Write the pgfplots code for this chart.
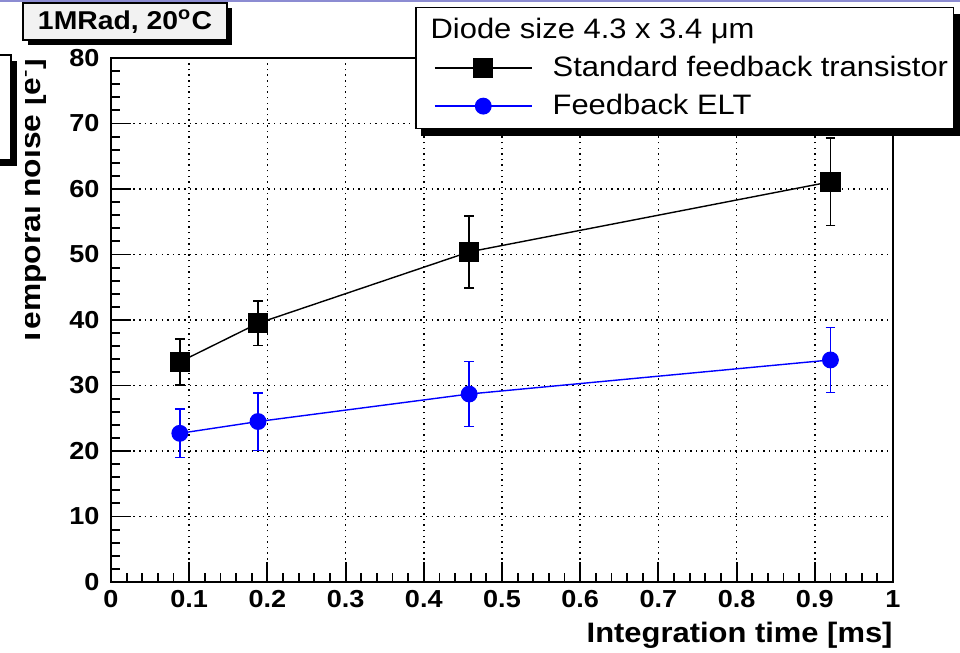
\documentclass[border=0pt]{standalone}
\usepackage{pgfplots}
\pgfplotsset{compat=1.18}
\usepackage{fontspec}
\setmainfont{Liberation Sans}[FakeStretch=1.1]
\definecolor{rootblue}{RGB}{0,0,255}
\definecolor{topline}{RGB}{140,140,210}
\definecolor{paveback}{RGB}{242,242,242}
\pgfdeclarelayer{shadowlayer}
\pgfsetlayers{shadowlayer,main}
\begin{document}
\begin{tikzpicture}
\useasboundingbox (-1.665,-1.05) rectangle (12.735,8.73);
\begin{axis}[
    at={(0,0)}, anchor=south west,
    scale only axis,
    width=11.73cm, height=7.86cm,
    xmin=0, xmax=1, ymin=0, ymax=80,
    xtick={0,0.1,0.2,0.3,0.4,0.5,0.6,0.7,0.8,0.9,1},
    ytick={0,10,20,30,40,50,60,70,80},
    minor x tick num=4, minor y tick num=4,
    tick align=inside,
    xtick pos=left, ytick pos=left,
    major tick length=0.3cm, minor tick length=0.14cm,
    tick style={black, line width=0.8pt},
    axis line style={line width=0.9pt},
    grid=major,
    major grid style={black, line width=0.6pt, dash pattern=on 0.6pt off 1.8pt},
    /pgf/number format/assume math mode=true,
    ticklabel style={font=\bfseries\fontsize{10.5}{12}\selectfont},
    yticklabel style={xshift=-0.05cm},
    xlabel={Integration time [ms]},
    xlabel style={at={(axis description cs:1,-0.1145)}, anchor=base east,
        font=\bfseries\fontsize{12}{14}\selectfont, inner sep=0pt},
    legend style={name=legbox, at={(0.389,1.0973)}, anchor=north west,
        draw=black, line width=0.6pt, fill=white,
        inner xsep=0.08cm, inner ysep=0.155cm,
        row sep=0.2125cm, column sep=0.3cm,
        font=\fontsize{12}{14}\selectfont,
        nodes={inner sep=0pt}},
    legend cell align=left,
    legend image code/.code={\path (0cm,0cm);
        \draw[mark repeat=2,mark phase=2,#1] plot coordinates {(0.195cm,0cm) (0.92cm,0cm) (1.65cm,0cm)};},
    error bars/error bar style={line width=0.7pt},
    error bars/error mark options={rotate=90, mark size=2.1pt, line width=0.7pt},
]
\addlegendimage{empty legend}
\addlegendentry{\hspace*{-1.83cm}Diode size 4.3 x 3.4 μm}

\addplot[black, line width=0.6pt, mark=square*, mark size=4pt,
    error bars/.cd, y dir=both, y explicit]
coordinates {
    (0.088,33.6) +- (0,3.5)
    (0.188,39.5) +- (0,3.4)
    (0.458,50.4) +- (0,5.5)
    (0.920,61.1) +- (0,6.65)
};
\addlegendentry{Standard feedback transistor}

\addplot[rootblue, line width=0.6pt, mark=*, mark size=3.3pt,
    error bars/.cd, y dir=both, y explicit]
coordinates {
    (0.088,22.7) +- (0,3.7)
    (0.188,24.5) +- (0,4.4)
    (0.458,28.7) +- (0,4.95)
    (0.920,33.9) +- (0,4.95)
};
\addlegendentry{Feedback ELT}
\end{axis}

% shadow of the legend box
\begin{pgfonlayer}{shadowlayer}
\fill[black] ([shift={(0.09cm,-0.1cm)}]legbox.south west) rectangle ([shift={(0.09cm,-0.1cm)}]legbox.north east);
\end{pgfonlayer}

% pixel frame of the reference
\begin{scope}[shift={(-1.665cm,8.73cm)}, x=0.015cm, y=-0.015cm]
\fill[topline] (0,0) rectangle (960,2);
\fill[black] (232,8) rectangle (28,45);
\node[draw=black, line width=0.6pt, fill=paveback, inner sep=0pt,
    minimum width=3.06cm, minimum height=0.555cm,
    font=\bfseries\fontsize{11}{13}\selectfont] at (125,21.5) {1MRad, 20\textsuperscript{o}C};
\fill[black] (17,61) rectangle (-5,166);
\node[draw=black, line width=0.6pt, fill=white, inner sep=0pt,
    minimum width=0.315cm, minimum height=1.575cm] at (0.5,107.5) {};
% y title, cut by the canvas edge
\begin{scope}
\clip (26,40) rectangle (80,400);
\node[rotate=90, anchor=base east, inner sep=0pt,
    font=\bfseries\fontsize{12.3}{14}\selectfont] at (41,58) {Temporal noise [e\textsuperscript{-}]};
\end{scope}
\end{scope}
\end{tikzpicture}
\end{document}
